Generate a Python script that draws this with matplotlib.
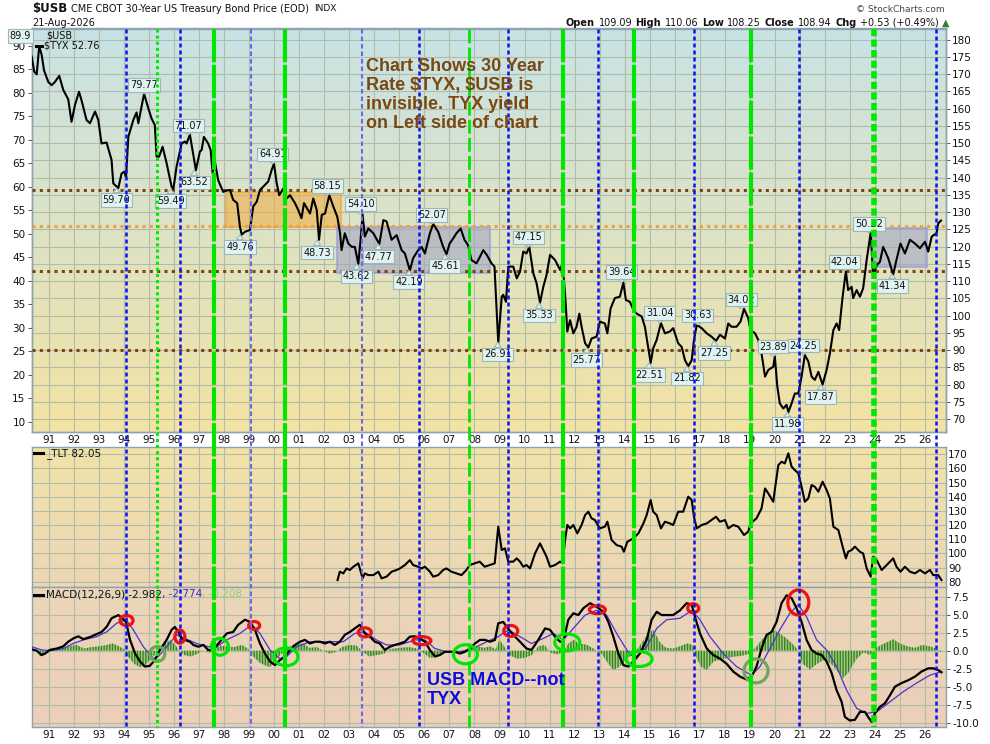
import numpy as np
import matplotlib
matplotlib.use('Agg')
import matplotlib.pyplot as plt
import matplotlib.transforms as mtransforms
from matplotlib.patches import Rectangle, Ellipse
from matplotlib.lines import Line2D
from matplotlib.colors import LinearSegmentedColormap

# ---- data ----
tyx_year = [1990.31, 1990.41, 1990.51, 1990.61, 1990.71, 1990.80, 1990.97, 1991.11, 1991.24, 1991.41,
            1991.57, 1991.77, 1991.90, 1992.04, 1992.20, 1992.30, 1992.50, 1992.64, 1992.84, 1992.97,
            1993.10, 1993.30, 1993.50, 1993.57, 1993.77, 1993.90, 1994.00, 1994.08, 1994.17, 1994.37,
            1994.50, 1994.57, 1994.80, 1994.95, 1995.10, 1995.23, 1995.30, 1995.40, 1995.54, 1995.70,
            1995.90, 1995.97, 1996.10, 1996.30, 1996.43, 1996.50, 1996.63, 1996.87, 1997.03, 1997.10,
            1997.19, 1997.36, 1997.46, 1997.54, 1997.63, 1997.76, 1997.96, 1998.10, 1998.23, 1998.36,
            1998.52, 1998.63, 1998.70, 1998.83, 1999.03, 1999.16, 1999.30, 1999.43, 1999.63, 1999.76,
            1999.90, 1999.99, 2000.10, 2000.20, 2000.36, 2000.50, 2000.63, 2000.83, 2000.96, 2001.09,
            2001.19, 2001.43, 2001.56, 2001.70, 2001.79, 2001.90, 2002.03, 2002.20, 2002.36, 2002.52,
            2002.63, 2002.69, 2002.82, 2002.96, 2003.10, 2003.22, 2003.36, 2003.45, 2003.53, 2003.62,
            2003.76, 2003.96, 2004.20, 2004.36, 2004.49, 2004.69, 2004.89, 2005.09, 2005.22, 2005.42,
            2005.55, 2005.75, 2005.89, 2006.02, 2006.22, 2006.35, 2006.55, 2006.75, 2006.88, 2007.01,
            2007.15, 2007.28, 2007.45, 2007.60, 2007.74, 2007.88, 2008.08, 2008.22, 2008.35, 2008.49,
            2008.68, 2008.80, 2008.95, 2009.09, 2009.15, 2009.26, 2009.35, 2009.55, 2009.69, 2009.82,
            2009.95, 2010.08, 2010.19, 2010.35, 2010.48, 2010.62, 2010.75, 2010.88, 2011.02, 2011.22,
            2011.42, 2011.52, 2011.62, 2011.71, 2011.82, 2011.95, 2012.08, 2012.19, 2012.28, 2012.42,
            2012.55, 2012.68, 2012.88, 2013.01, 2013.21, 2013.31, 2013.44, 2013.61, 2013.81, 2013.95,
            2014.05, 2014.21, 2014.35, 2014.48, 2014.68, 2014.81, 2014.94, 2015.04, 2015.14, 2015.28,
            2015.45, 2015.61, 2015.81, 2015.94, 2016.14, 2016.28, 2016.41, 2016.54, 2016.68, 2016.77,
            2016.88, 2017.08, 2017.28, 2017.47, 2017.65, 2017.81, 2018.01, 2018.14, 2018.27, 2018.47,
            2018.63, 2018.77, 2018.94, 2019.03, 2019.21, 2019.34, 2019.47, 2019.61, 2019.74, 2019.94,
            2020.00, 2020.10, 2020.20, 2020.34, 2020.47, 2020.54, 2020.67, 2020.80, 2020.94, 2021.07,
            2021.20, 2021.34, 2021.47, 2021.60, 2021.74, 2021.91, 2022.07, 2022.20, 2022.34, 2022.47,
            2022.57, 2022.71, 2022.84, 2022.93, 2023.07, 2023.13, 2023.27, 2023.40, 2023.53, 2023.67,
            2023.83, 2023.93, 2024.07, 2024.20, 2024.33, 2024.53, 2024.73, 2024.86, 2025.02, 2025.20,
            2025.40, 2025.60, 2025.80, 2026.00, 2026.13, 2026.27, 2026.46, 2026.53, 2026.64]
tyx_val = [87.7, 84.5, 83.9, 89.9, 88.0, 84.8, 82.3, 81.6, 82.3, 83.6,
           80.6, 78.6, 73.8, 77.4, 80.2, 78.4, 74.2, 73.5, 76.0, 74.2,
           69.2, 69.4, 65.7, 60.7, 59.7, 62.8, 63.2, 62.1, 70.6, 74.2,
           75.8, 73.5, 79.8, 77.0, 74.5, 73.1, 66.4, 66.4, 68.5, 65.0,
           60.0, 59.5, 64.3, 69.2, 69.6, 69.2, 71.1, 63.5, 67.5, 67.8,
           70.6, 69.2, 67.8, 62.8, 65.3, 61.4, 58.9, 59.2, 59.3, 57.2,
           56.5, 51.5, 49.8, 50.4, 50.8, 55.8, 56.8, 59.3, 60.4, 61.1,
           63.6, 64.9, 60.7, 58.2, 59.6, 57.5, 58.2, 56.5, 55.0, 53.3,
           56.5, 54.3, 57.5, 55.0, 48.7, 54.0, 54.3, 58.2, 55.8, 53.6,
           50.1, 46.5, 50.1, 47.9, 47.2, 47.2, 43.6, 48.7, 54.1, 49.4,
           51.1, 50.1, 47.8, 52.9, 52.6, 48.7, 49.7, 46.5, 45.8, 42.2,
           44.8, 46.5, 47.2, 45.8, 50.1, 52.1, 50.4, 47.2, 45.6, 47.9,
           49.0, 50.1, 51.1, 48.7, 47.6, 44.4, 43.7, 45.1, 46.5, 45.5,
           43.7, 43.0, 26.9, 36.6, 37.0, 35.5, 43.0, 43.0, 40.5, 41.9,
           46.2, 45.8, 47.2, 41.6, 39.5, 35.3, 38.7, 41.2, 45.5, 44.4,
           42.3, 43.7, 37.3, 29.2, 31.6, 28.8, 30.2, 33.0, 30.2, 26.7,
           25.8, 27.7, 28.1, 31.3, 30.9, 28.8, 34.1, 36.3, 36.6, 39.6,
           35.9, 35.5, 33.8, 33.0, 32.4, 30.2, 25.9, 22.5, 25.6, 27.4,
           31.0, 28.8, 29.2, 29.9, 26.7, 25.9, 23.1, 21.8, 23.1, 27.4,
           30.6, 29.9, 28.8, 28.1, 27.2, 28.5, 27.7, 30.9, 30.2, 30.2,
           31.3, 34.0, 32.0, 29.5, 28.8, 27.4, 24.5, 19.6, 21.0, 21.7,
           23.9, 17.5, 13.9, 12.8, 13.6, 12.0, 13.9, 16.0, 16.0, 19.6,
           24.2, 22.8, 19.6, 18.9, 20.6, 17.9, 21.0, 24.5, 29.5, 30.9,
           29.5, 36.6, 42.0, 38.0, 38.7, 36.3, 38.0, 36.6, 38.4, 44.4,
           50.2, 40.9, 43.3, 44.0, 47.2, 44.8, 41.3, 44.4, 47.9, 45.8,
           48.7, 47.9, 46.9, 48.3, 46.2, 49.4, 50.1, 52.2, 52.8]

tlt_year = [2002.53, 2002.62, 2002.76, 2002.89, 2003.02, 2003.16, 2003.36, 2003.42, 2003.53, 2003.62,
            2003.76, 2003.96, 2004.16, 2004.29, 2004.49, 2004.69, 2004.89, 2005.02, 2005.22, 2005.42,
            2005.55, 2005.75, 2005.89, 2006.02, 2006.22, 2006.35, 2006.55, 2006.75, 2006.88, 2007.08,
            2007.28, 2007.48, 2007.68, 2007.81, 2008.01, 2008.21, 2008.41, 2008.61, 2008.81, 2008.95,
            2009.09, 2009.22, 2009.35, 2009.55, 2009.69, 2009.82, 2009.95, 2010.08, 2010.22, 2010.42,
            2010.62, 2010.75, 2010.88, 2011.02, 2011.22, 2011.42, 2011.52, 2011.62, 2011.71, 2011.82,
            2011.95, 2012.11, 2012.28, 2012.42, 2012.55, 2012.68, 2012.81, 2013.01, 2013.21, 2013.31,
            2013.48, 2013.68, 2013.88, 2013.97, 2014.11, 2014.35, 2014.55, 2014.75, 2014.88, 2015.04,
            2015.14, 2015.28, 2015.45, 2015.61, 2015.81, 2015.94, 2016.14, 2016.34, 2016.54, 2016.68,
            2016.77, 2016.88, 2017.08, 2017.28, 2017.47, 2017.65, 2017.81, 2018.01, 2018.14, 2018.34,
            2018.54, 2018.77, 2018.94, 2019.03, 2019.27, 2019.47, 2019.61, 2019.74, 2019.94, 2020.00,
            2020.14, 2020.27, 2020.40, 2020.54, 2020.67, 2020.80, 2020.94, 2021.07, 2021.20, 2021.34,
            2021.47, 2021.60, 2021.74, 2021.91, 2022.07, 2022.20, 2022.34, 2022.54, 2022.71, 2022.84,
            2022.93, 2023.07, 2023.20, 2023.40, 2023.53, 2023.67, 2023.83, 2023.93, 2024.07, 2024.27,
            2024.47, 2024.73, 2024.86, 2025.02, 2025.20, 2025.40, 2025.60, 2025.80, 2026.00, 2026.20,
            2026.33, 2026.53, 2026.66]
tlt_val = [81.2, 87.1, 85.9, 89.4, 88.3, 90.6, 93.0, 89.4, 82.4, 85.9,
           84.7, 84.7, 87.1, 82.4, 83.6, 87.1, 88.3, 89.4, 91.8, 95.3,
           91.8, 90.6, 89.4, 90.6, 87.1, 83.6, 84.7, 88.3, 89.4, 87.1,
           85.9, 84.7, 88.3, 91.8, 93.0, 94.2, 90.6, 91.8, 93.0, 118.9,
           102.4, 103.6, 94.2, 94.2, 96.5, 94.2, 90.6, 91.8, 89.4, 100.0,
           107.1, 102.4, 97.7, 90.6, 91.8, 94.2, 93.0, 109.5, 120.1, 117.7,
           120.1, 114.2, 120.1, 127.1, 129.5, 124.8, 123.6, 117.7, 118.9, 122.4,
           109.5, 105.9, 104.8, 101.2, 108.3, 110.6, 114.2, 121.2, 127.1, 137.7,
           129.5, 127.1, 117.7, 122.4, 121.2, 120.1, 129.5, 129.5, 140.1, 137.7,
           125.9, 117.7, 120.1, 121.2, 123.6, 125.9, 122.4, 123.6, 117.7, 120.1,
           118.9, 113.0, 115.4, 121.2, 124.8, 131.8, 145.9, 142.4, 136.5, 144.8,
           162.4, 164.8, 163.6, 170.7, 161.3, 158.9, 156.6, 147.1, 136.5, 138.9,
           148.3, 147.1, 143.6, 150.7, 144.8, 138.9, 118.9, 116.5, 104.8, 96.5,
           101.2, 102.4, 104.8, 101.2, 100.0, 89.4, 83.6, 97.7, 95.3, 88.3,
           91.8, 96.5, 90.6, 87.1, 90.6, 87.1, 85.9, 88.3, 85.9, 88.3,
           84.7, 84.7, 81.2]

macd_year = [1990.31, 1990.51, 1990.71, 1990.84, 1991.04, 1991.31, 1991.57, 1991.77, 1991.97, 1992.17,
             1992.37, 1992.64, 1992.90, 1993.10, 1993.30, 1993.50, 1993.77, 1993.90, 1994.08, 1994.24,
             1994.44, 1994.64, 1994.83, 1995.03, 1995.23, 1995.43, 1995.70, 1995.90, 1996.03, 1996.17,
             1996.30, 1996.43, 1996.63, 1996.77, 1996.97, 1997.17, 1997.36, 1997.56, 1997.83, 1998.10,
             1998.36, 1998.56, 1998.83, 1999.03, 1999.23, 1999.43, 1999.63, 1999.83, 2000.03, 2000.23,
             2000.43, 2000.63, 2000.83, 2001.03, 2001.23, 2001.43, 2001.63, 2001.83, 2002.03, 2002.22,
             2002.42, 2002.62, 2002.82, 2003.02, 2003.22, 2003.42, 2003.62, 2003.82, 2004.02, 2004.22,
             2004.42, 2004.62, 2004.82, 2005.02, 2005.22, 2005.42, 2005.62, 2005.82, 2006.02, 2006.22,
             2006.42, 2006.62, 2006.82, 2007.02, 2007.22, 2007.42, 2007.62, 2007.82, 2008.02, 2008.22,
             2008.42, 2008.62, 2008.82, 2008.95, 2009.15, 2009.29, 2009.55, 2009.82, 2010.08, 2010.28,
             2010.55, 2010.82, 2011.02, 2011.22, 2011.42, 2011.55, 2011.75, 2011.95, 2012.15, 2012.35,
             2012.62, 2012.88, 2013.15, 2013.35, 2013.55, 2013.75, 2013.95, 2014.15, 2014.35, 2014.61,
             2014.88, 2015.08, 2015.28, 2015.48, 2015.68, 2015.94, 2016.21, 2016.48, 2016.68, 2016.81,
             2017.01, 2017.28, 2017.54, 2017.81, 2018.07, 2018.34, 2018.61, 2018.87, 2019.07, 2019.27,
             2019.47, 2019.67, 2019.87, 2020.07, 2020.27, 2020.47, 2020.67, 2020.87, 2021.07, 2021.27,
             2021.47, 2021.67, 2021.87, 2022.07, 2022.27, 2022.47, 2022.67, 2022.80, 2023.00, 2023.20,
             2023.40, 2023.60, 2023.73, 2023.87, 2024.00, 2024.20, 2024.40, 2024.60, 2024.80, 2025.06,
             2025.33, 2025.60, 2025.86, 2026.13, 2026.33, 2026.53, 2026.66]
macd_val = [0.2, 0.0, -0.6, -0.4, 0.1, 0.3, 0.6, 1.25, 1.7, 2.0,
            1.6, 1.9, 2.3, 2.6, 3.3, 4.5, 4.95, 4.6, 4.0, 1.5,
            -0.4, -1.5, -2.2, -2.1, -1.3, 0.1, 1.5, 2.9, 3.3, 2.6,
            1.7, 1.5, 1.25, 0.8, 0.55, 0.8, 0.1, 0.1, 1.25, 2.4,
            2.6, 3.6, 4.3, 4.0, 2.9, 1.0, -0.4, -1.5, -2.0, -1.3,
            -0.8, 0.1, 0.8, 1.25, 1.5, 1.0, 1.25, 1.25, 1.0, 1.25,
            0.8, 1.25, 2.2, 2.6, 3.1, 3.6, 2.4, 1.95, 1.25, 1.0,
            0.1, 0.55, 0.8, 1.0, 1.25, 1.95, 2.0, 1.7, 1.25, 0.1,
            -0.8, -0.6, -0.15, -0.15, -0.15, -0.4, -0.15, 0.3, 1.0, 1.5,
            1.5, 1.25, 1.5, 3.8, 4.0, 3.3, 2.2, 1.25, 0.3, 0.1,
            1.5, 3.1, 2.9, 1.95, 1.25, 1.25, 4.3, 5.2, 4.95, 5.9,
            6.6, 6.1, 5.4, 4.0, 1.95, -0.4, -2.0, -2.2, -1.5, -0.4,
            1.5, 4.3, 5.4, 4.95, 4.95, 4.95, 5.6, 6.6, 6.4, 4.7,
            2.4, 0.3, -0.6, -1.1, -1.8, -2.9, -3.6, -4.0, -3.6, -2.2,
            0.3, 2.2, 2.6, 4.0, 6.6, 7.7, 7.3, 5.9, 4.0, 1.5,
            0.1, -0.4, -0.6, -1.5, -3.1, -5.5, -7.1, -9.2, -9.7, -9.6,
            -8.5, -8.5, -9.2, -9.9, -8.7, -7.8, -7.3, -6.2, -5.0, -4.5,
            -4.1, -3.6, -2.9, -2.45, -2.45, -2.7, -3.0]

sig_year = [1990.31, 1990.71, 1991.04, 1991.57, 1991.97, 1992.37, 1992.90, 1993.30, 1993.70, 1994.08,
            1994.37, 1994.77, 1995.17, 1995.37, 1995.70, 1996.10, 1996.43, 1996.90, 1997.36, 1997.70,
            1998.10, 1998.63, 1999.10, 1999.43, 1999.83, 2000.23, 2000.50, 2000.90, 2001.43, 2002.22,
            2002.76, 2003.22, 2003.62, 2004.08, 2004.49, 2005.02, 2005.62, 2006.02, 2006.42, 2006.88,
            2007.42, 2007.95, 2008.49, 2008.95, 2009.35, 2009.82, 2010.28, 2010.75, 2011.15, 2011.55,
            2011.95, 2012.42, 2012.88, 2013.28, 2013.68, 2014.21, 2014.48, 2014.88, 2015.28, 2015.68,
            2016.21, 2016.68, 2017.01, 2017.41, 2017.94, 2018.47, 2019.07, 2019.41, 2019.81, 2020.20,
            2020.60, 2020.94, 2021.27, 2021.67, 2022.07, 2022.47, 2022.87, 2023.27, 2023.67, 2024.07,
            2024.60, 2025.13, 2025.66, 2026.20, 2026.66]
sig_val = [0.55, 0.1, 0.0, 0.3, 1.0, 1.5, 1.95, 2.6, 3.8, 4.3,
           2.9, 0.55, -1.1, -0.8, 0.55, 2.2, 1.7, 1.0, 0.55, 0.55,
           1.5, 2.4, 3.6, 2.4, 0.1, -1.1, -0.8, 0.55, 1.25, 1.25,
           1.25, 2.4, 2.6, 1.5, 0.8, 0.8, 1.5, 1.5, 0.3, -0.15,
           -0.15, 0.3, 1.25, 1.95, 2.9, 1.95, 1.0, 1.7, 2.4, 1.5,
           3.1, 4.95, 5.6, 4.95, 2.4, -0.6, -0.8, 0.55, 3.1, 4.3,
           4.5, 5.6, 4.3, 1.95, -0.4, -2.2, -3.4, -2.2, 0.3, 2.9,
           5.2, 6.4, 4.7, 1.5, 0.1, -2.2, -5.5, -8.0, -8.7, -8.5,
           -7.1, -5.7, -4.5, -3.4, -2.9]

hist_year = [1990.31, 1990.50, 1990.64, 1990.80, 1990.95, 1991.20, 1991.50, 1991.80, 1992.10, 1992.40,
             1992.70, 1993.00, 1993.30, 1993.55, 1993.80, 1994.00, 1994.15, 1994.40, 1994.63, 1994.85,
             1995.05, 1995.30, 1995.50, 1995.83, 1996.05, 1996.20, 1996.40, 1996.65, 1996.90, 1997.15,
             1997.40, 1997.60, 1997.85, 1998.10, 1998.40, 1998.70, 1998.95, 1999.10, 1999.40, 1999.60,
             1999.83, 2000.05, 2000.30, 2000.50, 2000.80, 2001.16, 2001.40, 2001.70, 2001.95, 2002.22,
             2002.45, 2002.70, 2003.00, 2003.30, 2003.55, 2003.80, 2004.10, 2004.40, 2004.60, 2005.00,
             2005.40, 2005.70, 2005.95, 2006.22, 2006.50, 2006.80, 2007.10, 2007.50, 2007.80, 2008.10,
             2008.40, 2008.62, 2008.85, 2009.00, 2009.15, 2009.40, 2009.70, 2010.00, 2010.30, 2010.55,
             2010.80, 2011.05, 2011.30, 2011.55, 2011.75, 2011.95, 2012.20, 2012.50, 2012.80, 2013.10,
             2013.35, 2013.55, 2013.80, 2014.10, 2014.40, 2014.70, 2015.00, 2015.15, 2015.40, 2015.65,
             2015.95, 2016.20, 2016.50, 2016.70, 2016.85, 2017.05, 2017.27, 2017.55, 2017.85, 2018.10,
             2018.40, 2018.70, 2019.00, 2019.25, 2019.55, 2019.94, 2020.20, 2020.50, 2020.75, 2020.95,
             2021.10, 2021.40, 2021.70, 2022.00, 2022.30, 2022.73, 2022.95, 2023.25, 2023.55, 2023.80,
             2024.00, 2024.25, 2024.50, 2024.73, 2025.00, 2025.30, 2025.60, 2025.90, 2026.20, 2026.45,
             2026.64]
hist_val = [0.2, 0.1, -0.8, -0.4, 0.2, 0.4, 0.3, 0.6, 0.8, 0.3,
            0.5, 0.6, 0.8, 1.0, 0.6, 0.2, -0.8, -1.8, -2.3, -2.0,
            -1.2, -0.3, 0.6, 1.5, 0.8, 0.0, -0.6, -0.8, -0.5, 0.1,
            -0.3, 0.2, 0.7, 0.6, 0.5, 0.8, 0.3, -0.6, -1.6, -2.0,
            -2.3, -1.2, -0.4, 0.3, 0.9, 1.0, 0.4, 0.5, 0.0, -0.4,
            -0.2, 0.5, 0.8, 0.7, -0.2, -0.8, -0.6, -0.4, 0.2, 0.4,
            0.5, 0.3, -0.3, -1.0, -0.9, -0.2, 0.0, -0.2, 0.2, 0.6,
            0.4, 0.6, 0.2, 1.5, 0.8, -0.6, -1.1, -1.0, -0.6, 0.6,
            0.8, -0.3, -0.5, -0.2, 1.0, 1.5, 1.0, 0.8, 0.2, -0.5,
            -1.8, -2.7, -2.2, -1.0, -0.3, 1.2, 2.6, 2.9, 1.2, 0.4,
            0.3, 0.6, 1.0, 0.8, -0.8, -2.2, -2.7, -1.5, -1.2, -1.0,
            -0.8, -0.7, -0.4, 0.5, 1.8, 2.9, 2.4, 1.6, 0.8, 0.0,
            -1.8, -2.6, -1.8, -1.2, -2.0, -3.8, -3.0, -1.2, -0.2, -0.6,
            0.3, 0.8, 1.2, 1.6, 1.0, 0.6, 0.4, 0.8, 0.6, 0.3,
            -0.2]

year_ticks = list(range(1991, 2027))

# annotation marks
vline_year = [1994.08, 1995.33, 1996.23, 1997.60, 1999.06, 2000.44, 2003.50, 2005.78, 2007.78,
              2009.34, 2011.55, 2012.93, 2014.38, 2016.77, 2019.06, 2020.96, 2023.96, 2026.46]
vline_kind = ['blue', 'gdot', 'blue', 'glong', 'lblue', 'glong', 'lblue', 'blue', 'gdash',
              'blue', 'glong', 'blue', 'glong', 'blue', 'glong', 'blue', 'gthick', 'blue']
hline_val = [59.4, 51.6, 42.1, 25.3]
hline_kind = ['brown', 'orange', 'brown', 'brown']

peak_text = ['89.9', '79.77', '59.70', '59.49', '71.07', '63.52', '64.91', '49.76', '58.15', '48.73',
             '54.10', '47.77', '43.62', '52.07', '45.61', '42.19', '26.91', '47.15', '35.33', '25.77',
             '39.64', '31.04', '22.51', '30.63', '21.82', '27.25', '34.02', '23.89', '24.25', '11.98',
             '17.87', '42.04', '50.22', '41.34']
peak_year = [1989.85, 1994.80, 1993.70, 1995.86, 1996.57, 1996.80, 1999.94, 1998.63, 2002.13, 2001.71,
             2003.45, 2004.16, 2003.29, 2006.29, 2006.82, 2005.38, 2008.93, 2010.15, 2010.58, 2012.48,
             2013.88, 2015.41, 2014.97, 2016.92, 2016.49, 2017.58, 2018.67, 2019.94, 2021.14, 2020.50,
             2021.84, 2022.77, 2023.76, 2024.69]
peak_pos = [92.1, 81.6, 57.2, 57.0, 73.0, 60.9, 66.9, 47.2, 60.2, 46.0,
            56.3, 45.1, 40.9, 54.0, 43.1, 39.7, 24.3, 49.2, 32.6, 23.1,
            41.8, 33.1, 19.9, 32.6, 19.2, 24.6, 36.0, 26.0, 26.2, 9.5,
            15.3, 44.0, 52.1, 38.9]

# MACD circles: year, value, width px, height px, colour
circ_year = [1994.10, 1995.33, 1996.23, 1997.83, 1999.20, 2000.47, 2003.62, 2005.90, 2007.64,
             2009.45, 2011.71, 2012.91, 2014.58, 2016.74, 2019.25, 2020.94]
circ_val = [4.2, -0.45, 1.95, 0.55, 3.5, -0.85, 2.55, 1.4, -0.5,
            2.75, 1.15, 5.7, -1.15, 5.9, -2.8, 6.7]
circ_w = [13, 15, 10, 17, 11, 24, 13, 18, 24, 14, 25, 16, 26, 11, 24, 21]
circ_h = [10, 15, 13, 17, 8, 18, 9, 8, 19, 11, 17, 8, 15, 9, 24, 25]
circ_col = ['red', 'gg', 'red', 'green', 'red', 'green', 'red', 'red', 'green',
            'red', 'green', 'red', 'green', 'red', 'gg', 'red']

# ---- figure ----
W, H = 990, 744
fig = plt.figure(figsize=(W / 100, H / 100), dpi=100)
fig.patch.set_facecolor('white')


def box(l, t, r, b):
    return [l / W, 1 - b / H, (r - l) / W, (b - t) / H]


XL, XR = 31.7, 946
ax = fig.add_axes(box(XL, 28.5, XR, 432))
ax_r = ax.twinx()
ax_t = fig.add_axes(box(XL, 446.7, XR, 586.7), sharex=ax)
ax_m = fig.add_axes(box(XL, 586.7, XR, 727.3), sharex=ax)
ax_r.set_zorder(1)
ax.set_zorder(2)
ax.patch.set_visible(False)


def gradient(a, top, bottom):
    cmap = LinearSegmentedColormap.from_list('bg', [bottom, top])
    a.imshow(np.linspace(0, 1, 256).reshape(-1, 1), cmap=cmap, aspect='auto', origin='lower',
             extent=[0, 1, 0, 1], transform=a.transAxes, zorder=0, interpolation='bilinear')


gradient(ax_r, '#c7e3e6', '#f3e2a4')
gradient(ax_t, '#f1e3a9', '#ecd6b5')
gradient(ax_m, '#ecd6b7', '#ebcfba')

grid_col = '#b3bca6'
spine_col = '#8ea3ad'
for a in (ax, ax_r, ax_t, ax_m):
    for s in a.spines.values():
        s.set_color(spine_col)
        s.set_linewidth(1.0)
    a.tick_params(labelsize=7.5, length=3, width=0.7, color='#555555', labelcolor='#111111', pad=1.5)

ax.set_xlim(1990.31, 2026.84)
ax.set_xticks(year_ticks)
ax.set_xticklabels(['%02d' % (y % 100) for y in year_ticks])
for a in (ax, ax_t, ax_m):
    a.grid(True, axis='x', color=grid_col, lw=0.8)
    a.set_axisbelow(True)
ax_t.tick_params(labelbottom=False, length=0)
ax.tick_params(axis='x', length=0, pad=2)
ax_m.tick_params(axis='x', length=0, pad=2)

# main panel
ax.set_ylim(7.81, 93.66)
ax.set_yticks(range(10, 95, 5))
ax_r.set_ylim(66.3, 183.2)
ax_r.set_yticks(range(70, 185, 5))
ax_r.grid(True, axis='y', color=grid_col, lw=0.8)

for v, k in zip(hline_val, hline_kind):
    ax.axhline(v, color='#7a4510' if k == 'brown' else '#f0a040', lw=2.2, dashes=(1, 1.4), zorder=3)

ax.add_patch(Rectangle((1998.06, 51.4), 4.59, 7.5, fc='#f0b048', ec='#f0a030', alpha=0.6, lw=1.5, zorder=2))
ax.add_patch(Rectangle((2002.49, 41.7), 6.13, 9.7, fc='#9ea2c6', ec='#8c8ce6', alpha=0.55, lw=1.5, zorder=2))
ax.add_patch(Rectangle((2023.89, 43.0), 2.21, 8.3, fc='#9ea2c6', ec='#8c8ce6', alpha=0.55, lw=1.5, zorder=2))

ax.plot(tyx_year, tyx_val, color='black', lw=1.5, zorder=4)

# value labels with a small pointer to the turning point
for t, x, y in zip(peak_text, peak_year, peak_pos):
    bb = dict(boxstyle='square,pad=0.18', fc='#e0f3f1', ec='#9db6b6', lw=0.8)
    if t == '89.9':
        ax.text(x, y, t, ha='center', va='center', fontsize=7, color='#111111', zorder=6,
                clip_on=False, bbox=bb)
        continue
    ax.annotate(t, xy=(x, float(t)), xytext=(x, y), ha='center', va='center', fontsize=7,
                color='#111111', zorder=6, bbox=bb,
                arrowprops=dict(arrowstyle='wedge,tail_width=0.7,shrink_factor=0.5', fc='#e0f3f1',
                                ec='#9db6b6', lw=0.8, shrinkA=0, shrinkB=0))

# TLT panel
ax_t.yaxis.tick_right()
ax_t.set_ylim(76.5, 175.4)
ax_t.set_yticks(range(80, 175, 10))
ax_t.grid(True, axis='y', color=grid_col, lw=0.8)
ax_t.plot(tlt_year, tlt_val, color='black', lw=1.5, zorder=4)

# MACD panel
ax_m.yaxis.tick_right()
ax_m.set_ylim(-10.64, 8.89)
ax_m.set_yticks(np.arange(-10, 8, 2.5))
ax_m.set_yticklabels(['%.1f' % v for v in np.arange(-10, 8, 2.5)])
ax_m.grid(True, axis='y', color=grid_col, lw=0.8)
plt.rcParams['hatch.linewidth'] = 1.0
ax_m.fill_between(hist_year, 0, hist_val, facecolor='#9fcf80', edgecolor='#3f7d26', hatch='||||||', lw=0, zorder=2)
ax_m.plot(sig_year, sig_val, color='#4b30d6', lw=0.9, zorder=4)
ax_m.plot(macd_year, macd_val, color='black', lw=1.6, zorder=5)

ccol = {'red': '#ee1111', 'green': '#00e600', 'gg': '#6fa65a'}
for x, y, w, h, c in zip(circ_year, circ_val, circ_w, circ_h, circ_col):
    ax_m.add_patch(Ellipse((x, y), w / 25.03, h / 7.2, fill=False, ec=ccol[c], lw=2.3, zorder=6))

# vertical marker lines through all panels
styles = {
    'blue': dict(color='#0a14f0', lw=1.8, dashes=(1.6, 1.2)),
    'lblue': dict(color='#6a6ae8', lw=1.5, dashes=(2.2, 1.4)),
    'gdot': dict(color='#00ee00', lw=2.2, dashes=(1, 1)),
    'glong': dict(color='#00e600', lw=3.0, dashes=(8, 0.6)),
    'gdash': dict(color='#00e600', lw=2.0, dashes=(5, 1.5)),
    'gthick': dict(color='#00e600', lw=4.0, dashes=(1.3, 0.6)),
}
trans = mtransforms.blended_transform_factory(ax.transData, fig.transFigure)
for x, k in zip(vline_year, vline_kind):
    fig.add_artist(Line2D([x, x], [1 - 28.5 / H, 1 - 727.3 / H], transform=trans, zorder=5, **styles[k]))

# texts
fig.text(366 / W, 1 - 58 / H, 'Chart Shows 30 Year\nRate \\$TYX, \\$USB is\ninvisible. TYX yield\non Left side of chart',
         family='Liberation Sans', fontweight='bold', fontsize=13, color='#7b4812', ha='left', va='top',
         linespacing=1.15, zorder=7)
fig.text(427 / W, 1 - 672 / H, 'USB MACD--not\nTYX', family='Liberation Sans', fontweight='bold',
         fontsize=13, color='#0c0cdc', ha='left', va='top', linespacing=1.15, zorder=7)

renderer = fig.canvas.get_renderer()


def run_text(x, y, parts, size, gap=3):
    for s, wt, c in parts:
        t = fig.text(x / W, 1 - y / H, s, fontsize=size, fontweight=wt, color=c, va='center', ha='left')
        x += t.get_window_extent(renderer).width + gap
    return x


xe = run_text(32, 8.5, [('$USB', 'bold', '#111111')], 8.5, gap=4)
xe = run_text(xe, 8.5, [('CME CBOT 30-Year US Treasury Bond Price (EOD)', 'normal', '#111111')], 7, gap=5)
run_text(xe, 8.5, [('INDX', 'normal', '#111111')], 6.5)
run_text(32, 22.5, [('21-Aug-2026', 'normal', '#111111')], 7)
fig.text(945 / W, 1 - 9 / H, '\u00a9 StockCharts.com', fontsize=6.5, color='#444444', ha='right', va='center')
run_text(566, 22.5, [('Open', 'bold', '#111111'), ('109.09', 'normal', '#111111'),
                     ('High', 'bold', '#111111'), ('110.06', 'normal', '#111111'),
                     ('Low', 'bold', '#111111'), ('108.25', 'normal', '#111111'),
                     ('Close', 'bold', '#111111'), ('108.94', 'normal', '#111111'),
                     ('Chg', 'bold', '#111111'), ('+0.53 (+0.49%)', 'normal', '#111111'),
                     ('\u25b2', 'normal', '#2e7d32')], 7, gap=3.5)

# panel legends
fig.text(46 / W, 1 - 35 / H, '$USB', fontsize=7, color='#111111', va='center')
fig.add_artist(Line2D([35.5 / W, 41.5 / W], [1 - 46 / H, 1 - 46 / H], color='black', lw=2.2))
fig.text(44 / W, 1 - 46 / H, '$TYX 52.76', fontsize=7, color='#111111', va='center')
fig.add_artist(Line2D([34 / W, 42.5 / W], [1 - 453.5 / H, 1 - 453.5 / H], color='black', lw=2.2))
fig.text(46 / W, 1 - 453.5 / H, '_TLT 82.05', fontsize=7.5, color='#111111', va='center')
fig.add_artist(Line2D([34 / W, 42.5 / W], [1 - 594.5 / H, 1 - 594.5 / H], color='black', lw=2.2))
xe = run_text(46, 594.5, [('MACD(12,26,9) -2.982', 'normal', '#111111')], 7.5, gap=0)
xe = run_text(xe, 594.5, [(', -2.774', 'normal', '#3a2ad6')], 7.5, gap=0)
run_text(xe, 594.5, [(', -0.208', 'normal', '#8fcf7a')], 7.5, gap=0)

fig.savefig('out.png', dpi=100)
